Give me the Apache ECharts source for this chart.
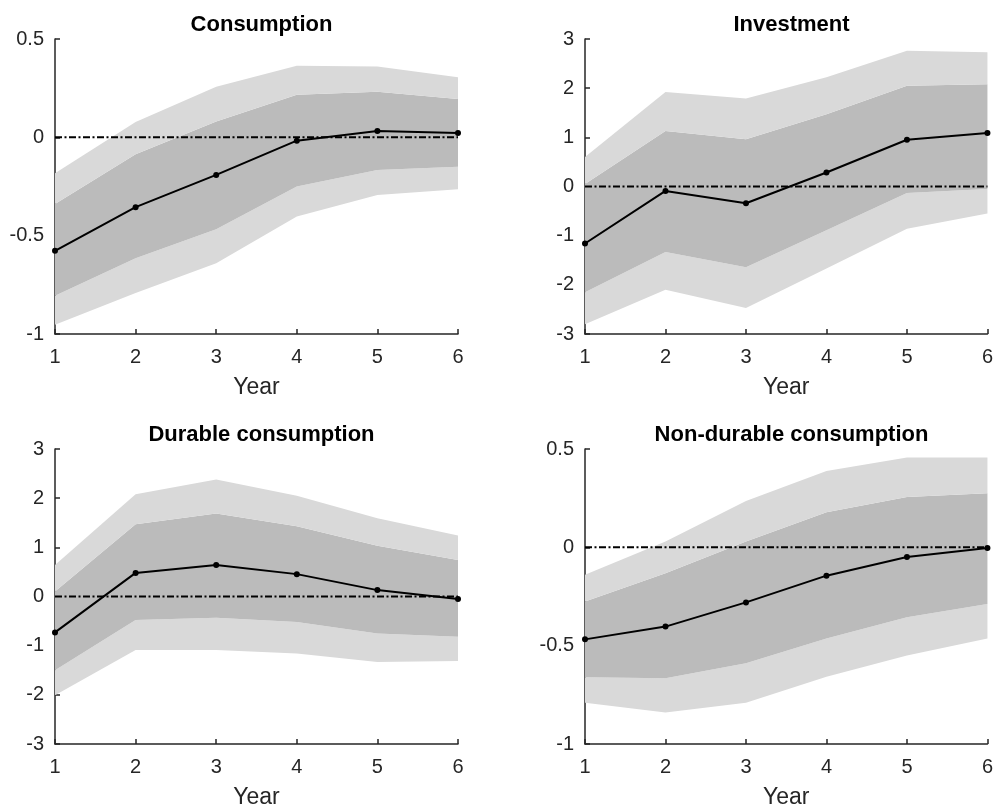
<!DOCTYPE html>
<html>
<head>
<meta charset="utf-8">
<title>Impulse responses</title>
<script src="https://cdn.jsdelivr.net/npm/echarts@6/dist/echarts.min.js"></script>
<style>
  html, body { margin: 0; padding: 0; background: #ffffff; }
  #chart { width: 996px; height: 810px; }
</style>
</head>
<body>
<div id="chart"></div>
<script>
// Horizon (years) shared by every panel
const years = ['1', '2', '3', '4', '5', '6'];

// Consumption
const consTitle = 'Consumption';
const consMedian = [-0.577, -0.355, -0.191, -0.017, 0.032, 0.022];
const consInnerLo = [-0.806, -0.615, -0.467, -0.250, -0.166, -0.149];
const consInnerHi = [-0.339, -0.086, 0.080, 0.217, 0.232, 0.195];
const consOuterLo = [-0.953, -0.792, -0.640, -0.403, -0.293, -0.264];
const consOuterHi = [-0.183, 0.078, 0.257, 0.364, 0.360, 0.306];
const consTicks = { min: -1, max: 0.5, interval: 0.5 };

// Investment
const invTitle = 'Investment';
const invMedian = [-1.16, -0.09, -0.34, 0.285, 0.95, 1.09];
const invInnerLo = [-2.15, -1.33, -1.64, -0.89, -0.13, -0.05];
const invInnerHi = [0.05, 1.13, 0.96, 1.47, 2.05, 2.08];
const invOuterLo = [-2.80, -2.10, -2.47, -1.67, -0.86, -0.55];
const invOuterHi = [0.60, 1.92, 1.79, 2.22, 2.76, 2.73];
const invTicks = { min: -3, max: 3, interval: 1 };

// Durable consumption
const durTitle = 'Durable consumption';
const durMedian = [-0.73, 0.48, 0.64, 0.455, 0.13, -0.05];
const durInnerLo = [-1.50, -0.48, -0.43, -0.52, -0.75, -0.82];
const durInnerHi = [0.10, 1.47, 1.69, 1.43, 1.03, 0.74];
const durOuterLo = [-2.01, -1.09, -1.09, -1.16, -1.33, -1.31];
const durOuterHi = [0.64, 2.08, 2.38, 2.05, 1.59, 1.24];
const durTicks = { min: -3, max: 3, interval: 1 };

// Non-durable consumption
const ndTitle = 'Non-durable consumption';
const ndMedian = [-0.468, -0.403, -0.280, -0.144, -0.049, -0.003];
const ndInnerLo = [-0.660, -0.666, -0.590, -0.463, -0.356, -0.288];
const ndInnerHi = [-0.276, -0.132, 0.030, 0.178, 0.256, 0.275];
const ndOuterLo = [-0.790, -0.840, -0.790, -0.658, -0.550, -0.463];
const ndOuterHi = [-0.140, 0.030, 0.235, 0.388, 0.457, 0.457];
const ndTicks = { min: -1, max: 0.5, interval: 0.5 };

const panels = [
  { title: consTitle, med: consMedian, ilo: consInnerLo, ihi: consInnerHi, olo: consOuterLo, ohi: consOuterHi, ticks: consTicks },
  { title: invTitle, med: invMedian, ilo: invInnerLo, ihi: invInnerHi, olo: invOuterLo, ohi: invOuterHi, ticks: invTicks },
  { title: durTitle, med: durMedian, ilo: durInnerLo, ihi: durInnerHi, olo: durOuterLo, ohi: durOuterHi, ticks: durTicks },
  { title: ndTitle, med: ndMedian, ilo: ndInnerLo, ihi: ndInnerHi, olo: ndOuterLo, ohi: ndOuterHi, ticks: ndTicks }
];

// Layout of the 2x2 grid of plot areas (pixels)
const layout = [
  { left: 55, top: 39 },
  { left: 585, top: 39 },
  { left: 55, top: 449 },
  { left: 585, top: 449 }
];
const plotW = 403;
const plotH = 295;

const FONT = 'Liberation Sans, Arial, Helvetica, sans-serif';
const LIGHT = '#d9d9d9';
const DARK = '#bbbbbb';
const AXIS = '#262626';

const grids = [], xAxes = [], yAxes = [], series = [], titles = [];

const diff = (a, b) => a.map((v, i) => +(v - b[i]).toFixed(4));

panels.forEach((p, k) => {
  const L = layout[k];
  grids.push({ left: L.left, top: L.top, width: plotW, height: plotH, containLabel: false });
  titles.push({
    text: p.title,
    left: L.left + plotW / 2,
    top: L.top - 30,
    textAlign: 'center',
    textStyle: { fontFamily: FONT, fontSize: 22, fontWeight: 'bold', color: '#000' }
  });
  xAxes.push({
    gridIndex: k,
    type: 'category',
    data: years,
    boundaryGap: false,
    name: 'Year',
    nameLocation: 'middle',
    nameGap: 42,
    nameTextStyle: { fontFamily: FONT, fontSize: 23, color: AXIS },
    axisLine: { show: true, onZero: false, lineStyle: { color: AXIS, width: 1.5 } },
    axisTick: { show: true, inside: true, length: 5, alignWithLabel: true, lineStyle: { color: AXIS, width: 1.5 } },
    axisLabel: { fontFamily: FONT, fontSize: 20, color: AXIS, margin: 13 },
    splitLine: { show: false }
  });
  yAxes.push({
    gridIndex: k,
    type: 'value',
    min: p.ticks.min,
    max: p.ticks.max,
    interval: p.ticks.interval,
    axisLine: { show: true, lineStyle: { color: AXIS, width: 1.5 } },
    axisTick: { show: true, inside: true, length: 5, lineStyle: { color: AXIS, width: 1.5 } },
    axisLabel: { fontFamily: FONT, fontSize: 20, color: AXIS, margin: 11 },
    splitLine: { show: false }
  });

  const stackName = 'band' + k;
  const common = {
    type: 'line',
    xAxisIndex: k,
    yAxisIndex: k,
    stack: stackName,
    stackStrategy: 'all',
    symbol: 'none',
    lineStyle: { width: 0, opacity: 0 },
    silent: true,
    z: 1
  };
  // invisible base at the outer lower bound
  series.push(Object.assign({}, common, { data: p.olo }));
  // outer lower -> inner lower
  series.push(Object.assign({}, common, { data: diff(p.ilo, p.olo), areaStyle: { color: LIGHT, opacity: 1 } }));
  // inner band
  series.push(Object.assign({}, common, { data: diff(p.ihi, p.ilo), areaStyle: { color: DARK, opacity: 1 } }));
  // inner upper -> outer upper
  series.push(Object.assign({}, common, { data: diff(p.ohi, p.ihi), areaStyle: { color: LIGHT, opacity: 1 } }));

  // zero reference line
  series.push({
    type: 'line',
    xAxisIndex: k,
    yAxisIndex: k,
    data: p.med.map(() => 0),
    symbol: 'none',
    lineStyle: { color: '#000', width: 2, type: [7, 2.5, 2, 2.5] },
    silent: true,
    z: 3
  });

  // point estimate
  series.push({
    type: 'line',
    xAxisIndex: k,
    yAxisIndex: k,
    data: p.med,
    symbol: 'circle',
    symbolSize: 6,
    itemStyle: { color: '#000' },
    lineStyle: { color: '#000', width: 2 },
    z: 4
  });
});

const chart = echarts.init(document.getElementById('chart'), null, { renderer: 'canvas' });
chart.setOption({
  backgroundColor: '#ffffff',
  animation: false,
  title: titles,
  grid: grids,
  xAxis: xAxes,
  yAxis: yAxes,
  series: series
});
</script>
</body>
</html>
